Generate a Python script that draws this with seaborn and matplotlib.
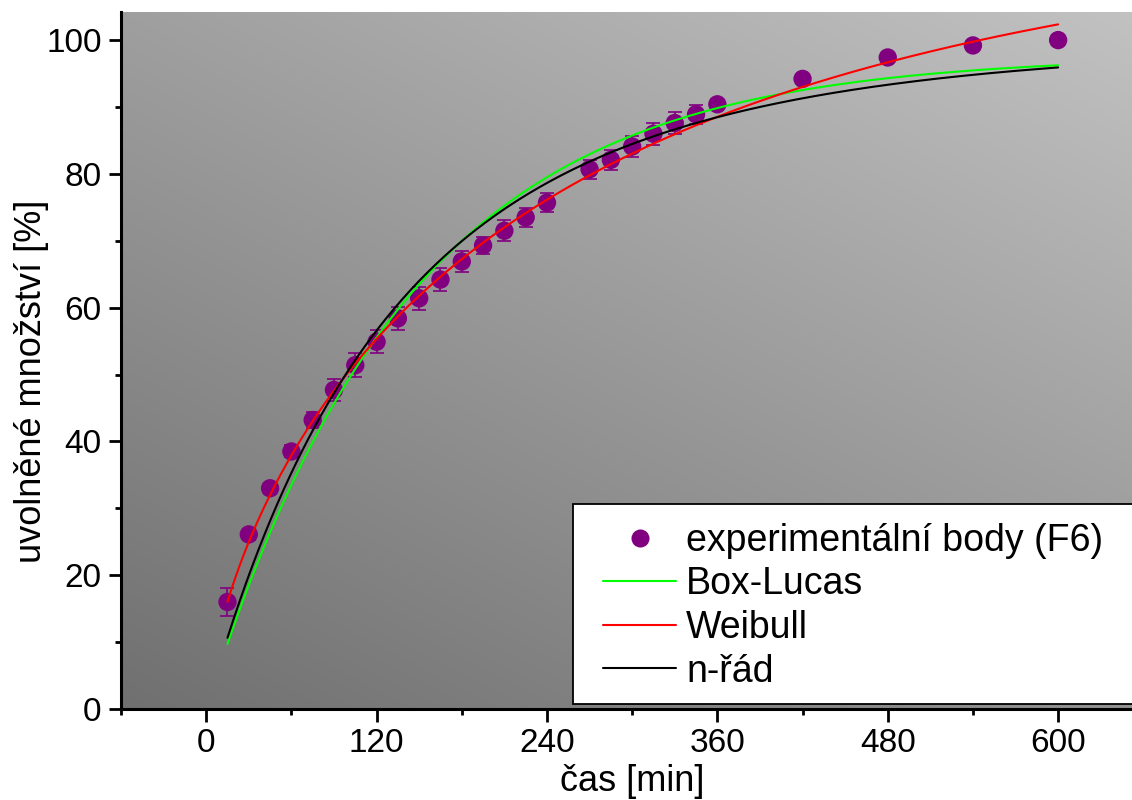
import numpy as np
import pandas as pd
import matplotlib
matplotlib.use("Agg")
import matplotlib.pyplot as plt
import seaborn as sns
from matplotlib.patches import Rectangle
from matplotlib.lines import Line2D

# ---- data ----
time_min = [15, 30, 45, 60, 75, 90, 105, 120, 135, 150, 165, 180, 195, 210, 225,
            240, 270, 285, 300, 315, 330, 345, 360, 420, 480, 540, 600]
released = [16.0, 26.1, 33.0, 38.5, 43.2, 47.7, 51.4, 54.9, 58.4, 61.4, 64.2, 66.9,
            69.3, 71.5, 73.5, 75.7, 80.7, 82.1, 84.1, 86.0, 87.6, 88.9, 90.4, 94.2,
            97.4, 99.2, 100.0]
err = [2.1, 0.8, 0.8, 0.9, 1.2, 1.6, 1.8, 1.75, 1.75, 1.7, 1.75, 1.6, 1.3, 1.57,
       1.37, 1.42, 1.42, 1.45, 1.6, 1.67, 1.6, 1.4, 0.8, 0.6, 0.6, 0.6, 0.6]

# fitted model parameters (estimated from the curves)
boxlucas_a, boxlucas_b = 97.7, 0.0070
weibull_A, weibull_tau, weibull_b = 120.0, 237.8, 0.703
norder_A, norder_c, norder_p = 100.0, 0.0016, 4.75

labels = ["experimentální body (F6)", "Box-Lucas", "Weibull", "n-řád"]
colors = {"Box-Lucas": "#00ff00", "Weibull": "#ff0000", "n-řád": "#000000"}
purple = "#800080"

# ---- curves ----
tt = np.linspace(15, 600, 400)
curves = pd.concat([
    pd.DataFrame({"t": tt, "y": boxlucas_a * (1 - np.exp(-boxlucas_b * tt)), "model": "Box-Lucas"}),
    pd.DataFrame({"t": tt, "y": weibull_A * (1 - np.exp(-(tt / weibull_tau) ** weibull_b)), "model": "Weibull"}),
    pd.DataFrame({"t": tt, "y": norder_A * (1 - (1 + norder_c * tt) ** (-norder_p)), "model": "n-řád"}),
])
pts = pd.DataFrame({"t": time_min, "y": released, "e": err})

sns.set_theme(style="white")
plt.rcParams["font.family"] = ["Liberation Sans", "DejaVu Sans"]

W, H = 1132, 800
fig = plt.figure(figsize=(W / 100, H / 100), dpi=100)
ax = fig.add_axes([121 / W, (H - 709) / H, 1 - 121 / W + 0.01, (709 - 12) / H])

# gradient background
u = np.linspace(0, 1, 256)
v = np.linspace(0, 1, 256)
U, V = np.meshgrid(u, v)
I = (112 + 35 * U + 47 * V) / 255.0
ax.imshow(np.dstack([I, I, I]), extent=[0, 1, 0, 1], origin="lower",
          transform=ax.transAxes, aspect="auto", zorder=0, interpolation="bilinear")

ax.errorbar(pts["t"], pts["y"], yerr=pts["e"], fmt="none", ecolor=purple,
            elinewidth=1.2, capsize=5, capthick=1.2, zorder=2)
sns.scatterplot(data=pts, x="t", y="y", color=purple, s=175, edgecolor="none",
                ax=ax, zorder=3, legend=False)
sns.lineplot(data=curves, x="t", y="y", hue="model", palette=colors,
             hue_order=["Box-Lucas", "Weibull", "n-řád"], linewidth=1.5,
             ax=ax, zorder=4, legend=False, sort=False)

ax.set_xlim(-60, 660)
ax.set_ylim(0, 104.2)
ax.set_xticks([0, 120, 240, 360, 480, 600])
ax.set_xticks(np.arange(-60, 661, 60), minor=True)
ax.set_yticks([0, 20, 40, 60, 80, 100])
ax.set_yticks(np.arange(0, 104, 10), minor=True)
ax.tick_params(axis="both", which="major", direction="out", length=9, width=2,
               labelsize=24, pad=5, color="black", labelcolor="black",
               bottom=True, left=True)
ax.tick_params(axis="both", which="minor", direction="out", length=4.5, width=2,
               color="black", bottom=True, left=True)
for s in ["top", "right"]:
    ax.spines[s].set_visible(False)
for s in ["left", "bottom"]:
    ax.spines[s].set_linewidth(2.2)
    ax.spines[s].set_color("black")
ax.set_xlabel("čas [min]", fontsize=26, labelpad=3, color="black")
ax.set_ylabel("uvolněné množství [%]", fontsize=26, color="black")
ax.yaxis.set_label_coords(-0.07, 0.47)

# legend frame
fig.patches.append(Rectangle((573 / W, (H - 704) / H), (W - 573 + 20) / W, 200 / H,
                             transform=fig.transFigure, facecolor="white",
                             edgecolor="black", linewidth=1.3, zorder=5))
handles = [
    Line2D([], [], linestyle="none", marker="o", markersize=13, color=purple, markeredgecolor="none"),
    Line2D([], [], color=colors["Box-Lucas"], linewidth=1.5),
    Line2D([], [], color=colors["Weibull"], linewidth=1.5),
    Line2D([], [], color=colors["n-řád"], linewidth=1.5),
]
leg = fig.legend(handles, labels, loc="upper left", bbox_to_anchor=(603 / W, (H - 523) / H),
                 frameon=False, fontsize=27, handlelength=1.95, handletextpad=0.27,
                 labelspacing=0.2, borderpad=0, borderaxespad=0)
leg.set_zorder(6)
for t in leg.get_texts():
    t.set_color("black")

fig.savefig("out.png", dpi=100)
